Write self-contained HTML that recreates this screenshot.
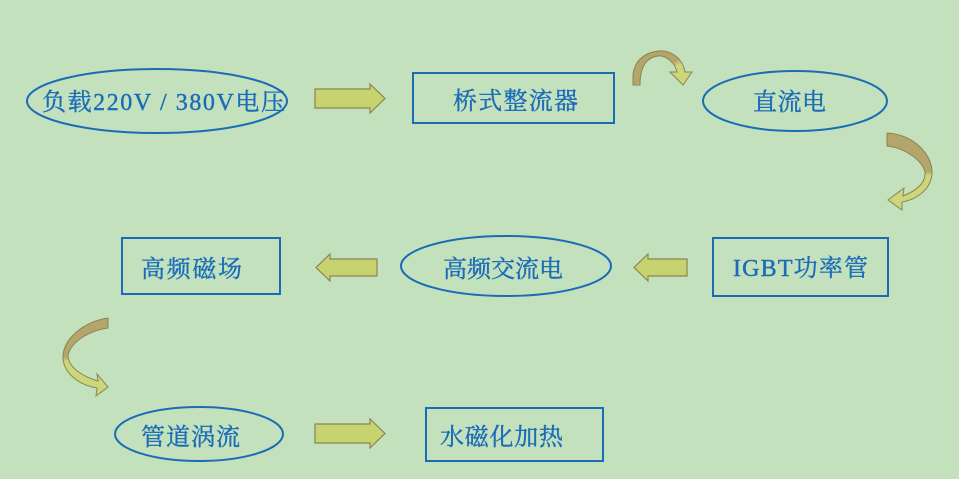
<!DOCTYPE html>
<html><head><meta charset="utf-8"><style>
html,body{margin:0;padding:0;background:#c3e1bd;}
svg{display:block}
text{font-family:"Liberation Serif","Noto Serif CJK SC",serif;fill:#1a6cb8;stroke:#1a6cb8;stroke-width:0.4;font-size:24px;}
</style></head><body>
<svg width="959" height="479" viewBox="0 0 959 479" xmlns="http://www.w3.org/2000/svg">
<defs>
<linearGradient id="g1" x1="0" y1="0" x2="1" y2="1"><stop offset="0" stop-color="#b4a56a"/><stop offset="0.5" stop-color="#b4a56a"/><stop offset="0.6" stop-color="#cdd77a"/><stop offset="1" stop-color="#cdd77a"/></linearGradient>
<linearGradient id="g2" x1="0" y1="0" x2="0" y2="1"><stop offset="0" stop-color="#b4a56a"/><stop offset="0.5" stop-color="#b4a56a"/><stop offset="0.55" stop-color="#cdd77a"/><stop offset="1" stop-color="#cdd77a"/></linearGradient>
</defs>
<rect width="959" height="479" fill="#c3e1bd"/>
<g fill="none" stroke="#1a6cb8" stroke-width="2">
<ellipse cx="157" cy="101" rx="130" ry="32"/>
<rect x="413" y="73" width="201" height="50"/>
<ellipse cx="795" cy="101" rx="92" ry="30"/>
<rect x="713" y="238" width="175" height="58"/>
<ellipse cx="506" cy="266" rx="105" ry="30"/>
<rect x="122" y="238" width="158" height="56"/>
<ellipse cx="199" cy="434" rx="84" ry="27"/>
<rect x="426" y="408" width="177" height="53"/>
</g>
<g fill="#c6d36e" stroke="#8a8456" stroke-width="1.2">
<polygon points="315,89 370,89 370,84 385,98.5 370,113 370,108 315,108"/>
<polygon points="315,424 370,424 370,419 385,433.5 370,448 370,443 315,443"/>
<polygon points="687,259 648,259 648,254 634,267.5 648,281 648,276 687,276"/>
<polygon points="377,259 330,259 330,254 316,267.5 330,281 330,276 377,276"/>
</g>
<path d="M633,85 L633,75 C635,55 655,48 668,52 C680,56 684,66 685,72 L692,72 L683,85 L670,72 L677,72 C675,62 665,55 658,56 C648,57 640,65 640,85 Z" fill="url(#g1)" stroke="#8a8456" stroke-width="1"/>
<path d="M887,133 C915,135 932,155 932,172 C932,190 915,200 902,202 L902,210 L888,200 L904,188 L903,196 C918,190 926,182 925,172 C922,160 905,148 887,146 Z" fill="url(#g2)" stroke="#8a8456" stroke-width="1"/>
<path d="M108,318 L108,328 C92,330 72,340 68,355 C68,368 84,377 98,381 L97,374 L108,387 L96,396 L97,388 C78,385 63,372 63,357 C63,340 82,322 108,318 Z" fill="url(#g2)" stroke="#8a8456" stroke-width="1"/>
<text x="42" y="110" textLength="243" lengthAdjust="spacing">负载220V / 380V电压</text>
<text x="453" y="109" textLength="125" lengthAdjust="spacing">桥式整流器</text>
<text x="753" y="110" textLength="73" lengthAdjust="spacing">直流电</text>
<text x="733" y="276" textLength="135" lengthAdjust="spacing">IGBT功率管</text>
<text x="443" y="277" textLength="120" lengthAdjust="spacing">高频交流电</text>
<text x="141" y="277" textLength="101" lengthAdjust="spacing">高频磁场</text>
<text x="141" y="445" textLength="99" lengthAdjust="spacing">管道涡流</text>
<text x="440" y="445" textLength="123" lengthAdjust="spacing">水磁化加热</text>
</svg>
</body></html>
